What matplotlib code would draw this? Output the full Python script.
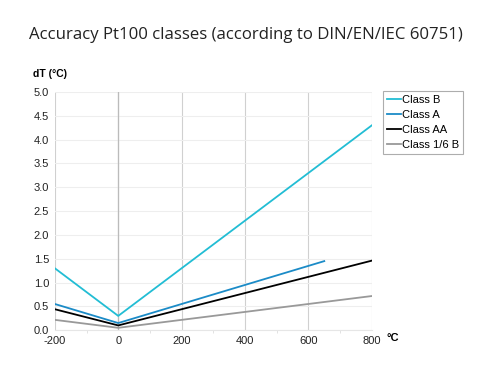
import numpy as np
import matplotlib.pyplot as plt

# temperature points (°C) and tolerance dT (°C) per class
t_b = [-200, 0, 800]
dt_b = [1.3, 0.3, 4.3]
t_a = [-200, 0, 650]
dt_a = [0.55, 0.15, 1.45]
t_aa = [-200, 0, 800]
dt_aa = [0.44, 0.1, 1.46]
t_6b = [-200, 0, 800]
dt_6b = [0.217, 0.05, 0.717]

plt.rcParams['font.family'] = ['Liberation Sans', 'DejaVu Sans']
plt.rcParams['axes.unicode_minus'] = False

fig = plt.figure(figsize=(4.81, 3.71), dpi=100)
ax = fig.add_axes([0.114, 0.11, 0.659, 0.642])

ax.plot(t_b, dt_b, color='#22bdd4', lw=1.3, label='Class B')
ax.plot(t_a, dt_a, color='#1b8bc7', lw=1.3, label='Class A')
ax.plot(t_aa, dt_aa, color='black', lw=1.3, label='Class AA')
ax.plot(t_6b, dt_6b, color='#999999', lw=1.3, label='Class 1/6 B')

ax.set_xlim(-200, 800)
ax.set_ylim(0, 5)
ax.set_xticks(np.arange(-200, 801, 200))
ax.set_xticks(np.arange(-200, 801, 100), minor=True)
ax.set_yticks(np.arange(0, 5.01, 0.5))
ax.set_yticklabels([f'{v:.1f}' for v in np.arange(0, 5.01, 0.5)])
ax.grid(axis='y', color='#eeeeee', lw=0.8)
ax.grid(axis='x', which='major', color='#d0d0d0', lw=0.8)
ax.axvline(0, color='#bbbbbb', lw=0.9, zorder=1)
for s in ['top', 'right', 'left']:
    ax.spines[s].set_visible(False)
ax.spines['bottom'].set_color('#e6e6e6')
ax.tick_params(axis='both', labelsize=8, colors='#222222', length=0, pad=4)
ax.tick_params(axis='x', which='minor', length=2, color='#dddddd')
ax.tick_params(axis='x', which='major', length=0)
ax.set_axisbelow(True)

leg = ax.legend(loc='upper left', bbox_to_anchor=(1.035, 1.005), fontsize=8,
                frameon=True, fancybox=False, handlelength=1.3, handletextpad=0.1,
                borderpad=0.35, labelspacing=0.45, borderaxespad=0)
leg.get_frame().set_edgecolor('#999999')
leg.get_frame().set_linewidth(0.8)

fig.text(0.512, 0.905, 'Accuracy Pt100 classes (according to DIN/EN/IEC 60751)',
         ha='center', va='center', fontsize=12.1, family='Open Sans', color='#222222')
fig.text(0.068, 0.80, 'dT (°C)', fontsize=7.5, fontweight='bold', va='center')
fig.text(0.803, 0.09, '°C', fontsize=8, fontweight='bold', va='center')

fig.savefig('out.png', dpi=100)
